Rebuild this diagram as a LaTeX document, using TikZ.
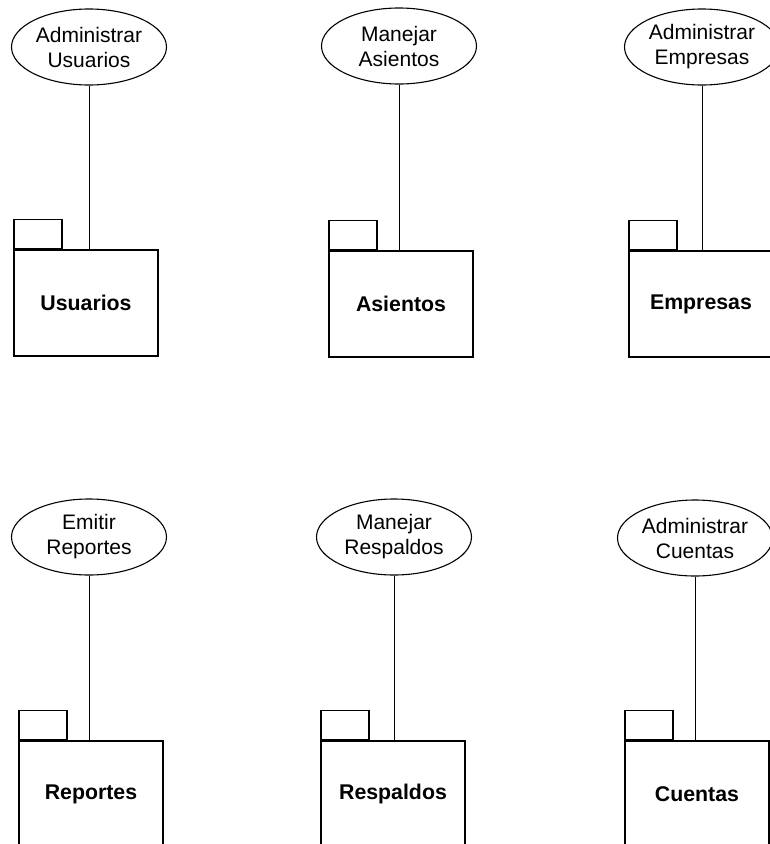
\documentclass[tikz,border=0pt]{standalone}
\usepackage{fontspec}
\setmainfont{Liberation Sans}
\usetikzlibrary{shapes.geometric}

\tikzset{
  usecase/.style={ellipse, draw=black, line width=1.1pt, fill=white,
    minimum width=155pt, minimum height=76pt, inner sep=0pt, align=center,
    font=\fontsize{21}{25}\selectfont},
  pkgbox/.style={rectangle, draw=black, line width=1.6pt, fill=white,
    minimum width=144pt, minimum height=106pt, inner sep=0pt,
    font=\fontsize{21.3}{25}\selectfont\bfseries},
  pkgtab/.style={rectangle, draw=black, line width=1.6pt,
    minimum width=48pt, minimum height=29pt, inner sep=0pt, anchor=south west},
  link/.style={draw=black, line width=0.9pt}
}

\begin{document}
\begin{tikzpicture}[x=1pt, y=-1pt]
  \clip (0,0) rectangle (770,844);
  \fill[white] (0,0) rectangle (770,844);

  % use cases
  \node[usecase] (e1) at (89,47)  {Administrar\\Usuarios};
  \node[usecase] (e2) at (399,46) {Manejar\\Asientos};
  \node[usecase] (e3) at (702,47) {Administrar\\Empresas};
  \node[usecase] (e4) at (89,537) {Emitir\\Reportes};
  \node[usecase] (e5) at (394,537) {Manejar\\Respaldos};
  \node[usecase] (e6) at (695,538) {Administrar\\Cuentas};

  % packages
  \node[pkgbox] (p1) at (86,303)  {Usuarios};
  \node[pkgbox] (p2) at (401,304) {Asientos};
  \node[pkgbox] (p3) at (701,304) {Empresas};
  \node[pkgbox] (p4) at (91,794)  {Reportes};
  \node[pkgbox] (p5) at (393,794) {Respaldos};
  \node[pkgbox] (p6) at (697,794) {Cuentas};

  \foreach \i in {1,...,6}{
    \node[pkgtab] (t\i) at (p\i.north west) {};
    \draw[link] (e\i.south) -- (e\i.south |- p\i.north);
  }
\end{tikzpicture}
\end{document}
